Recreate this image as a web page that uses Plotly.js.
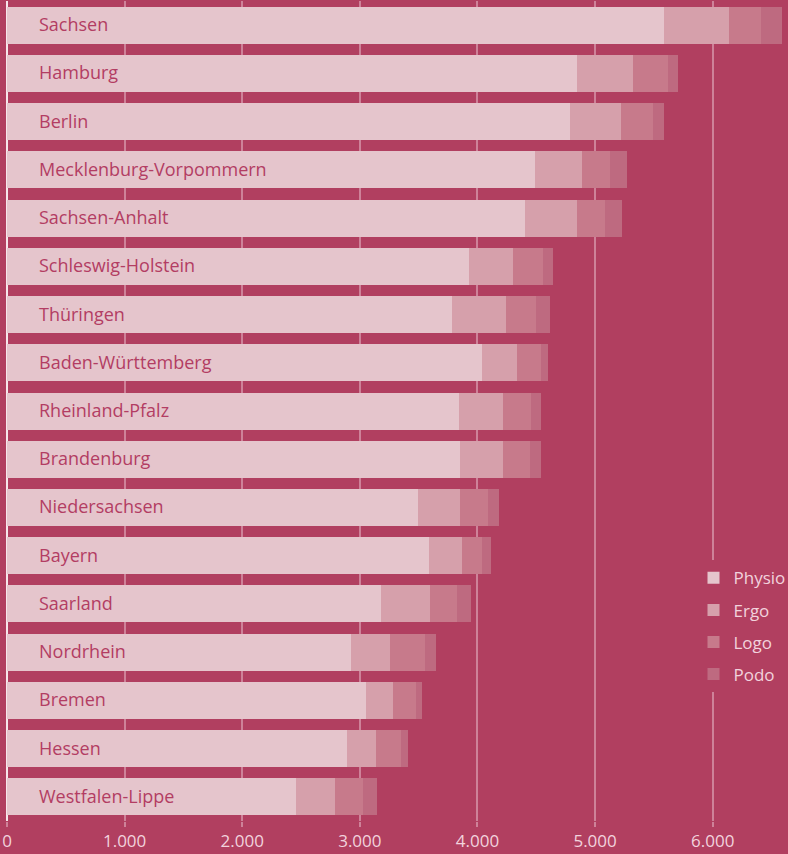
<!DOCTYPE html>
<html>
<head>
<meta charset="utf-8">
<script src="https://cdn.plot.ly/plotly-3.0.1.min.js"></script>
<style>html,body{margin:0;padding:0;background:#B13F60;}#chart{width:788px;height:854px;}</style>
</head>
<body>
<div id="chart"></div>
<script>
var categories = ["Sachsen","Hamburg","Berlin","Mecklenburg-Vorpommern","Sachsen-Anhalt","Schleswig-Holstein","Thüringen","Baden-Württemberg","Rheinland-Pfalz","Brandenburg","Niedersachsen","Bayern","Saarland","Nordrhein","Bremen","Hessen","Westfalen-Lippe"];
var physio = [5583,4844,4784,4486,4401,3925,3781,4036,3840,3849,3491,3585,3177,2922,3049,2888,2454];
var ergo   = [553,476,434,400,442,374,459,298,374,366,357,281,417,332,230,247,332];
var logo   = [272,298,272,238,238,255,255,204,238,230,238,170,230,298,196,213,238];
var podo   = [179,85,94,145,145,85,119,60,85,94,94,77,119,94,51,60,119];
var seriesNames = ["Physio","Ergo","Logo","Podo"];
var tickVals = [0,1000,2000,3000,4000,5000,6000];
var tickText = ["0","1.000","2.000","3.000","4.000","5.000","6.000"];

var bg = "#B13F60";
var colors = ["#E5C5CC","#D6A0AB","#C77A8B","#BE6A80"];
var series = [physio, ergo, logo, podo];

var traces = series.map(function(vals, i){
  return {
    type: "bar", orientation: "h",
    x: vals, y: categories,
    name: seriesNames[i],
    legendgroup: seriesNames[i],
    marker: {color: colors[i], line: {width: 0}},
    hoverinfo: "x+y+name"
  };
});

var annotations = categories.map(function(c){
  return {
    x: 0, xref: "x", y: c, yref: "y",
    text: c, showarrow: false,
    xanchor: "left", xshift: 30, yshift: 1,
    font: {family: "Open Sans", size: 18, color: "#B33D63"}
  };
});

var layout = {
  width: 788, height: 854,
  paper_bgcolor: bg, plot_bgcolor: bg,
  margin: {l: 7, r: 0, t: 1, b: 33, autoexpand: false},
  barmode: "stack",
  bargap: 0.233,
  font: {family: "Open Sans", size: 17, color: "#F2D3DD"},
  xaxis: {
    range: [0, 6640], automargin: false,
    tickvals: tickVals, ticktext: tickText,
    showgrid: true, gridcolor: "#CE8299", gridwidth: 2,
    zeroline: true, zerolinecolor: "#F7E6EB", zerolinewidth: 2,
    ticks: "outside", ticklen: 5, tickcolor: "#CE8299", tickwidth: 2,
    tickfont: {family: "Open Sans", size: 17, color: "#F2D3DD"},
    showline: false, fixedrange: true
  },
  yaxis: {
    type: "category", autorange: "reversed", automargin: false,
    showticklabels: false, showgrid: false, zeroline: false, ticks: "",
    fixedrange: true
  },
  showlegend: true,
  legend: {
    x: 0.879, xanchor: "left", y: 0.318, yanchor: "top",
    bgcolor: bg, borderwidth: 0,
    traceorder: "grouped", tracegroupgap: 7,
    font: {family: "Open Sans", size: 17, color: "#F2D3DD"}
  },
  annotations: annotations
};

Plotly.newPlot("chart", traces, layout, {displayModeBar: false, staticPlot: true});
</script>
</body>
</html>
